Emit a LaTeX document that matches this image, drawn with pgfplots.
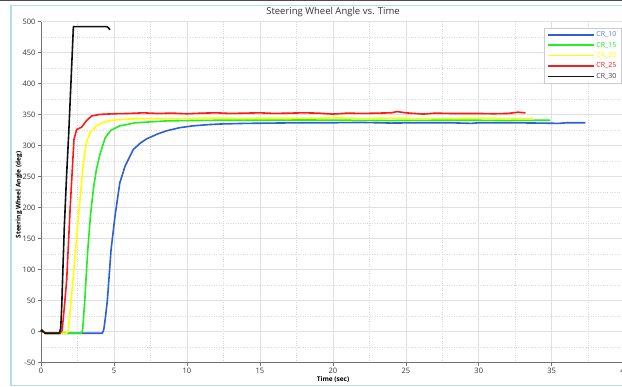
\documentclass[border=0pt]{standalone}
\usepackage{pgfplots}
\pgfplotsset{compat=1.18}
\usepackage{fontspec}
\setmainfont{Open Sans}
\definecolor{cblue}{HTML}{2F5FD0}
\definecolor{cgreen}{HTML}{22EE22}
\definecolor{cyellow}{HTML}{FFFF00}
\definecolor{cred}{HTML}{FF1A1A}
\definecolor{cblack}{HTML}{111111}
\definecolor{frameblue}{HTML}{B5DDE8}
\definecolor{txt}{HTML}{333333}
\begin{document}
\begin{tikzpicture}
\fill[white] (0pt,0pt) rectangle (622pt,387pt);
\draw[black!70, line width=1.5pt] (0pt,387pt) -- (622pt,387pt);
\draw[frameblue, line width=1.6pt] (622pt,381.5pt) -- (11pt,381.5pt) -- (11pt,1.5pt) -- (622pt,1.5pt);
\node[txt, font=\fontsize{9.5}{11}\selectfont] at (333pt,375pt) {Steering Wheel Angle vs. Time};
\node[font=\fontsize{6.5}{8}\selectfont\bfseries] at (333pt,7pt) {Time (sec)};
\node[font=\fontsize{6.5}{8}\selectfont\bfseries, rotate=90] at (19pt,192pt) {Steering Wheel Angle (deg)};
\begin{axis}[
  at={(41pt,24.3pt)}, anchor=south west,
  scale only axis, width=583.7pt, height=341pt,
  xmin=0, xmax=40, ymin=-50, ymax=500,
  xtick={0,5,...,40}, ytick={-50,0,...,500},
  minor x tick num=1, minor y tick num=1,
  grid=both,
  major grid style={draw=black!12, line width=0.6pt},
  minor grid style={draw=black!15, dotted, line width=0.6pt},
  axis x line*=bottom, axis y line*=left,
  axis line style={draw=black!55, line width=0.9pt, -},
  tick align=outside, major tick length=3pt, minor tick length=0pt,
  tick style={draw=black!55, line width=0.6pt},
  /pgf/number format/assume math mode=true,
  ticklabel style={font=\fontsize{7.5}{9}\selectfont, text=txt},
  xticklabel style={yshift=1pt},
  yticklabel style={xshift=1pt},
  extra y ticks={0}, extra y tick labels={},
  extra y tick style={grid style={draw=black!55, solid, line width=0.9pt}, major tick length=0pt},
  clip=false,
  legend style={at={(0.9937,0.982)}, anchor=north east, draw=black!20, line width=0.5pt,
    font=\fontsize{7}{8}\selectfont, inner xsep=3pt, inner ysep=2pt, row sep=0.8pt,
    nodes={inner sep=1.5pt}},
  legend cell align=left,
  legend image code/.code={\draw[#1] (0pt,0pt) -- (46pt,0pt);},
  every axis plot/.append style={line width=1.6pt, line join=round},
]
\addplot[cblue] coordinates {(0,0)(0.05,2)(0.15,0)(0.3,-2.5)(4.2,-2.5)(4.3,3)(4.4,20)(4.55,51)(4.8,132)(5.07,186)(5.4,240)(5.76,267)(6.33,294)(6.8,304)(7.24,311)(8,319)(8.6,324)(9.5,329)(10.4,332)(11.5,334)(12.3,335)(14,336)(16,336.5)(18,337)(20,337)(22,337.5)(24,336.5)(26,337)(28,337)(29.5,336)(30,337)(32,337)(34,336.5)(35.5,336)(36,337)(37.3,337)};
\addlegendentry{\textcolor{cblue!80}{CR\_10}}
\addplot[cgreen] coordinates {(0,0)(0.05,2)(0.15,0)(0.3,-2.5)(2.75,-2.5)(2.85,2)(3.0,50)(3.08,83)(3.2,130)(3.4,190)(3.6,232)(3.8,262)(4.04,286)(4.4,313)(4.8,325)(5.4,332)(6.5,337)(8.6,340)(10,340.5)(12,341)(15,341)(18,341.5)(21,341)(24,340.5)(27,341)(30,341)(32,340.5)(34,341)(34.9,341)};
\addlegendentry{\textcolor{cgreen}{CR\_15}}
\addplot[cyellow] coordinates {(0,0)(0.05,2)(0.15,0)(0.3,-2.5)(1.75,-2.5)(1.86,1)(2.19,83)(2.67,213)(2.9,270)(3.1,305)(3.4,322)(3.8,332)(4.3,338)(4.9,341)(6,343)(8,344)(10,344)(12,344.5)(14,344)(16,344.5)(18,344)(20,345)(22,344)(24,344.5)(26,344)(28,344)(30,344.5)(32,344)(33.7,344)};
\addlegendentry{\textcolor{cyellow}{CR\_20}}
\addplot[cred] coordinates {(0,0)(0.05,2)(0.15,0)(0.3,-2.5)(1.3,-2.5)(1.45,2)(1.6,40)(1.76,83)(2.0,200)(2.26,310)(2.44,326)(2.79,330)(3.1,340)(3.47,348)(4.04,350.5)(5,351.5)(6,352)(7,353)(8,352)(9,352.5)(10,351.5)(11,352.5)(12,353)(13,352)(14,352.5)(15,353)(16,352)(17,352.5)(18,353)(19,352.5)(20,351)(21,352.5)(22,352)(23,352.5)(24,353)(24.4,355)(25,353)(26.2,351)(27,352.5)(28,352)(29,352)(30,352)(31,351.5)(32,352)(32.7,354)(33.2,353)};
\addlegendentry{\textcolor{cred}{CR\_25}}
\addplot[cblack] coordinates {(0,0)(0.05,3)(0.15,0)(0.3,-2.5)(1.25,-2.5)(1.35,5)(1.42,40)(1.5,100)(1.6,170)(1.75,250)(1.9,320)(2.05,400)(2.22,492)(4.5,492)(4.58,491)(4.73,487)};
\addlegendentry{\textcolor{black!75}{CR\_30}}
\end{axis}
\pgfresetboundingbox
\path[use as bounding box] (0pt,0pt) rectangle (622pt,387pt);
\end{tikzpicture}
\end{document}
